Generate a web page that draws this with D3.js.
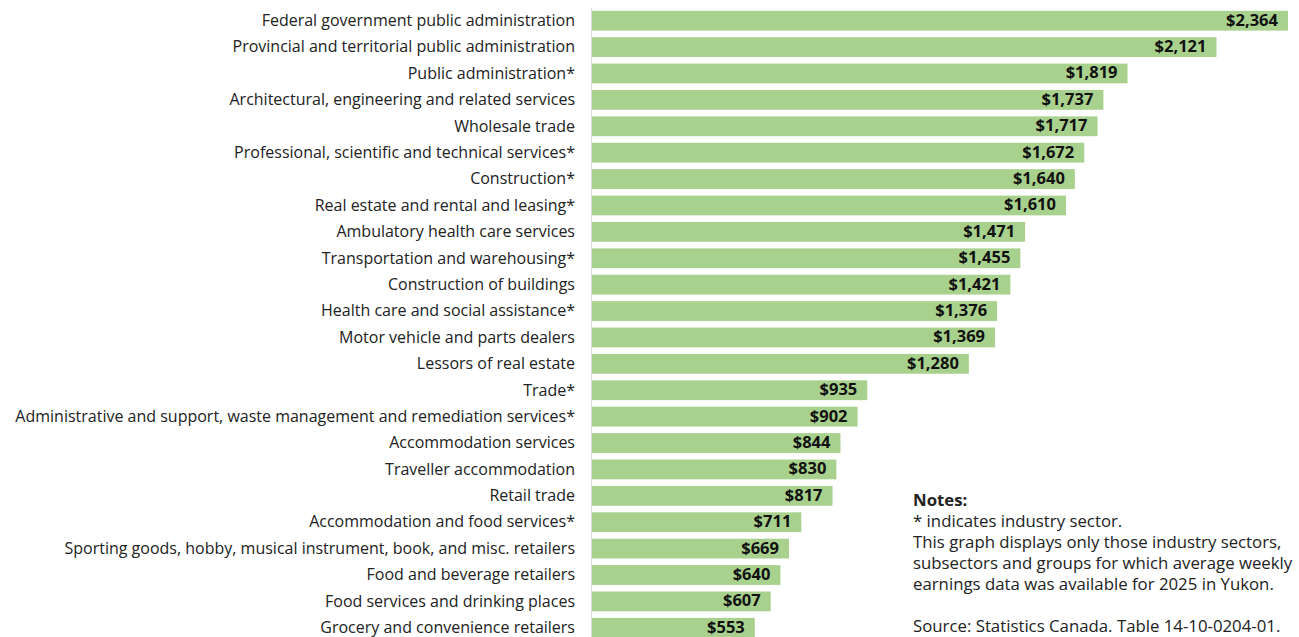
<!DOCTYPE html>
<html>
<head>
<meta charset="utf-8">
<script src="https://cdn.jsdelivr.net/npm/d3@7"></script>
<style>
  body { margin: 0; background: #fff; }
  svg text { font-family: "Open Sans", "Lato", sans-serif; }
</style>
</head>
<body>
<svg id="chart" width="1299" height="637"></svg>
<script>
var industries = [
  "Federal government public administration",
  "Provincial and territorial public administration",
  "Public administration*",
  "Architectural, engineering and related services",
  "Wholesale trade",
  "Professional, scientific and technical services*",
  "Construction*",
  "Real estate and rental and leasing*",
  "Ambulatory health care services",
  "Transportation and warehousing*",
  "Construction of buildings",
  "Health care and social assistance*",
  "Motor vehicle and parts dealers",
  "Lessors of real estate",
  "Trade*",
  "Administrative and support, waste management and remediation services*",
  "Accommodation services",
  "Traveller accommodation",
  "Retail trade",
  "Accommodation and food services*",
  "Sporting goods, hobby, musical instrument, book, and misc. retailers",
  "Food and beverage retailers",
  "Food services and drinking places",
  "Grocery and convenience retailers"
];
var earnings = [2364, 2121, 1819, 1737, 1717, 1672, 1640, 1610, 1471, 1455, 1421, 1376, 1369, 1280,
  935, 902, 844, 830, 817, 711, 669, 640, 607, 553];
var notes = [
  "* indicates industry sector.",
  "This graph displays only those industry sectors,",
  "subsectors and groups for which average weekly",
  "earnings data was available for 2025 in Yukon.",
  "",
  "Source: Statistics Canada. Table 14-10-0204-01."
];

var svg = d3.select("#chart");
var barColor = "#a9d18e";
var x0 = 592;

var xScale = d3.scaleLinear()
  .domain([0, 2364])
  .range([x0, 1288]);

var yScale = d3.scaleBand()
  .domain(industries)
  .range([7.5, 641])
  .paddingInner(0.25)
  .paddingOuter(0.125);

var fmt = d3.format("$,");

// axis line
svg.append("line")
  .attr("x1", x0 - 0.5)
  .attr("x2", x0 - 0.5)
  .attr("y1", 8)
  .attr("y2", 637)
  .attr("stroke", "#d9d9d9")
  .attr("stroke-width", 1);

svg.append("g")
  .selectAll("rect")
  .data(industries)
  .enter()
  .append("rect")
    .attr("x", x0)
    .attr("y", function(d){ return yScale(d); })
    .attr("width", function(d, i){ return xScale(earnings[i]) - x0; })
    .attr("height", yScale.bandwidth())
    .attr("fill", barColor);

svg.append("g")
  .selectAll("text")
  .data(industries)
  .enter()
  .append("text")
    .attr("x", 575)
    .attr("y", function(d){ return yScale(d) + yScale.bandwidth()/2; })
    .attr("dy", "0.33em")
    .attr("text-anchor", "end")
    .attr("font-size", 16)
    .attr("fill", "#222")
    .text(function(d){ return d; });

svg.append("g")
  .selectAll("text")
  .data(industries)
  .enter()
  .append("text")
    .attr("x", function(d, i){ return xScale(earnings[i]) - 10; })
    .attr("y", function(d){ return yScale(d) + yScale.bandwidth()/2; })
    .attr("dy", "0.3em")
    .attr("text-anchor", "end")
    .attr("font-size", 16.5)
    .attr("font-weight", "bold")
    .attr("fill", "#111")
    .text(function(d, i){ return fmt(earnings[i]); });

var notesG = svg.append("g").attr("transform", "translate(913, 500)");
notesG.append("text")
  .attr("x", 0)
  .attr("y", 0)
  .attr("dy", "0.35em")
  .attr("font-size", 16.8)
  .attr("font-weight", "bold")
  .attr("fill", "#222")
  .text("Notes:");
notesG.selectAll("text.note")
  .data(notes)
  .enter()
  .append("text")
    .attr("class", "note")
    .attr("x", 0)
    .attr("y", function(d, i){ return 21 * (i + 1); })
    .attr("dy", "0.35em")
    .attr("font-size", 16.8)
    .attr("fill", "#222")
    .text(function(d){ return d; });
</script>
</body>
</html>
